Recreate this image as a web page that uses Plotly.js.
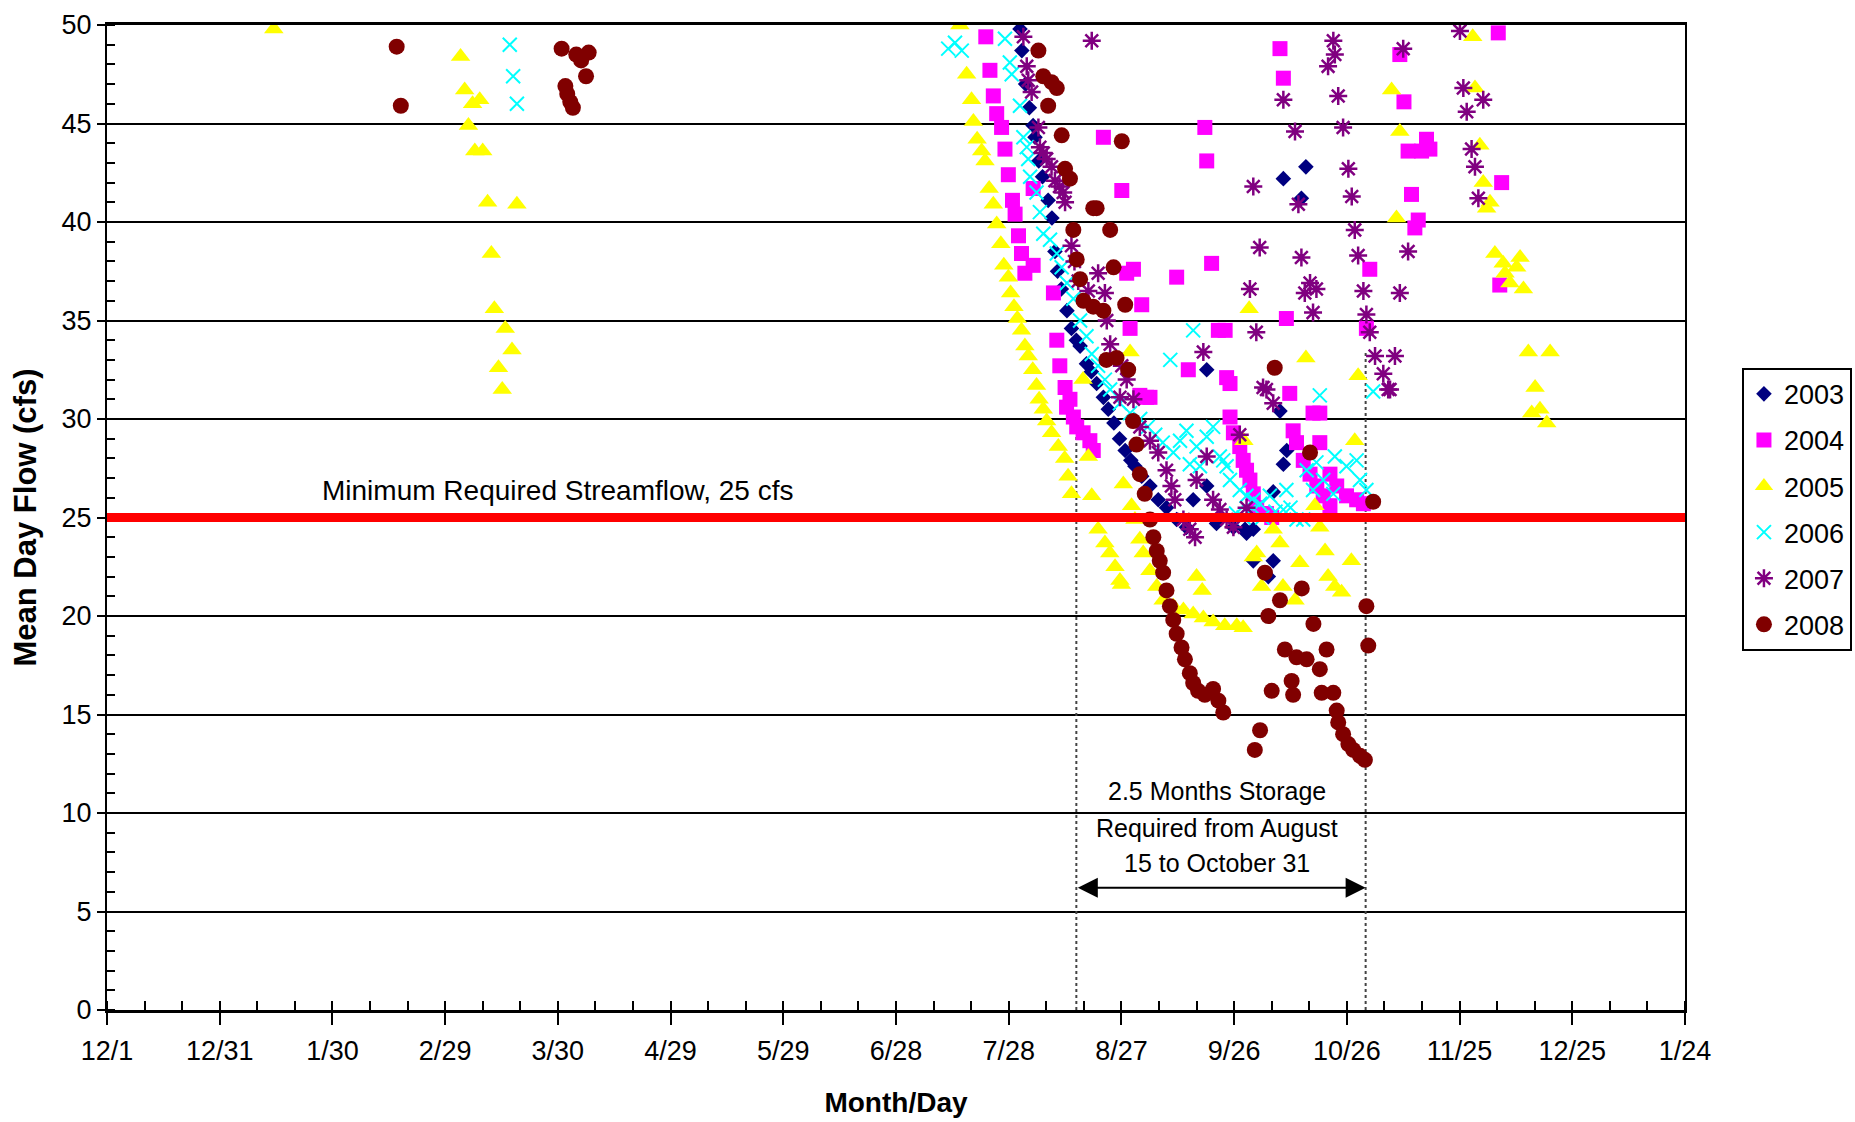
<!DOCTYPE html>
<html>
<head>
<meta charset="utf-8">
<script src="https://cdn.plot.ly/plotly-3.0.1.min.js"></script>
<style>html,body{margin:0;padding:0;background:#fff;}#chart{width:1855px;height:1122px;}</style>
</head>
<body>
<div id="chart"></div>
<script>
// x = days after 12/1 (axis labelled Month/Day), y = mean day flow (cfs)
const xTickDays = [0,30,60,90,120,150,180,210,240,270,300,330,360,390,420];
const xTickLabels = ['12/1','12/31','1/30','2/29','3/30','4/29','5/29','6/28','7/28','8/27','9/26','10/26','11/25','12/25','1/24'];
const years = ['2003','2004','2005','2006','2007','2008'];

const pts2003 = [[243,49.8],[243.5,48.7],[244.5,47.0],[245.5,45.8],[246.5,44.9],[247,44.3],[248,43.1],[249,42.3],[250.5,41.1],[251.5,40.2],[252.3,38.5],[253,37.5],[254,36.6],[255.5,35.5],[256.7,34.6],[258,34.0],[259,33.7],[260.7,32.8],[262,32.4],[263.4,31.8],[265.2,31.1],[266.5,30.5],[268,29.8],[269.5,29.0],[271,28.4],[272.5,27.9],[273.6,27.6],[275.4,27.1],[277.6,26.6],[279.8,25.9],[282,25.5],[284.7,24.9],[287.3,24.5],[289.1,25.9],[292.7,26.6],[295.3,24.7],[299.8,24.5],[303.3,24.2],[305.1,24.4],[302.9,24.4],[305.1,22.8],[310.4,22.8],[309.1,22.0],[310.4,26.3],[313.1,27.7],[314,28.4],[312.2,30.4],[313.1,42.2],[319.1,42.8],[317.9,41.2],[292.7,32.5]];

const pts2004 = [[233.9,49.4],[235,47.7],[235.9,46.4],[236.8,45.5],[238.1,44.8],[239,43.7],[239.9,42.4],[241,41.1],[241.7,40.4],[242.6,39.3],[243.4,38.4],[244.3,37.4],[246.5,37.8],[246.5,41.7],[251.9,36.4],[252.8,34.0],[253.6,32.7],[255,31.6],[255.4,30.6],[256.3,31.0],[257.2,30.1],[258.1,29.6],[259.8,29.3],[261.6,28.9],[262.5,28.4],[265.2,44.3],[270.1,41.6],[271.4,37.4],[273.2,37.6],[275.4,35.8],[272.3,34.6],[276.7,31.1],[274.9,31.2],[277.6,31.1],[284.7,37.2],[292.2,44.8],[292.7,43.1],[294,37.9],[295.8,34.5],[297.6,34.5],[287.8,32.5],[298,32.1],[298.9,30.1],[298.9,31.8],[299.8,29.3],[301.5,28.6],[302.4,27.9],[303.3,27.4],[304.2,26.9],[305.1,26.2],[306,25.5],[306.9,25.2],[308.6,25.2],[310,25.0],[314.8,31.3],[315.7,29.4],[316.6,28.8],[318.4,27.9],[320.2,27.2],[322,26.6],[323.7,26.1],[325.5,25.6],[322.8,30.3],[321,30.3],[322.8,28.8],[325.5,27.2],[327.3,26.6],[329.9,26.1],[332.6,25.9],[334.4,25.7],[312.2,48.8],[313.1,47.3],[313.9,35.1],[336.1,37.6],[335.2,34.6],[344.1,48.5],[345.2,46.1],[346.3,43.6],[349.9,43.6],[351.2,44.2],[352.1,43.7],[347.2,41.4],[349,40.1],[348.1,39.7],[370.3,49.6],[371.2,42.0],[370.7,36.8]];

const pts2005 = [[44.4,49.8],[94.1,48.4],[95.2,46.7],[97.3,46.0],[99.2,46.2],[96.2,44.9],[97.9,43.6],[100,43.6],[101.3,41.0],[102.3,38.4],[103.1,35.6],[106,34.6],[107.8,33.5],[104.2,32.6],[105.2,31.5],[109.1,40.9],[227,50.0],[228.8,47.5],[230.1,46.2],[230.6,45.1],[231.6,44.2],[232.8,43.6],[233.7,43.1],[234.8,41.7],[235.9,40.9],[236.8,39.9],[237.9,38.9],[238.7,37.8],[239.9,37.2],[240.5,36.4],[241.4,35.7],[242.3,35.1],[243.4,34.5],[244.3,33.7],[245.2,33.2],[246.4,32.5],[247.4,31.7],[248.1,31.0],[249.2,30.5],[250.1,29.9],[251.4,29.3],[253.2,28.6],[254.9,28.0],[255.8,27.1],[256.7,26.2],[259.8,32.0],[261.2,28.1],[262.1,26.1],[263.8,24.4],[265.6,23.7],[266.9,23.2],[268.3,22.5],[269.6,21.8],[270,21.6],[272.3,33.4],[270.5,26.7],[272.7,25.6],[273.6,24.9],[274.9,23.9],[275.8,23.2],[277.6,22.3],[279.4,21.5],[281.1,20.8],[283.8,20.5],[286.5,20.3],[289.1,20.1],[291.8,19.9],[294.4,19.7],[297.5,19.5],[300.7,19.5],[302.4,19.4],[290,22.0],[291.5,21.3],[302.6,28.9],[332.1,28.9],[321.5,25.6],[322.8,24.5],[310.4,24.4],[312.2,23.7],[306,23.2],[317.5,22.7],[307.3,21.5],[313,21.5],[316.2,20.8],[324.2,23.3],[325,22.0],[326.8,21.5],[328.6,21.2],[331.2,22.8],[305.1,23.0],[304,35.6],[319.1,33.1],[333,32.2],[341.9,46.7],[344.1,44.6],[343.2,40.2],[363.5,49.4],[364.1,46.8],[365.4,43.9],[366.3,42.0],[368.1,41.0],[367.2,40.7],[369.4,38.4],[371.6,37.9],[376.1,38.2],[372.1,37.4],[373.4,36.9],[377,36.6],[375.2,37.7],[378.3,33.4],[384.1,33.4],[380.1,31.6],[379.2,30.3],[381.4,30.5],[383.2,29.8]];

const pts2006 = [[107.2,49.0],[108.1,47.4],[109.1,46.0],[223.9,48.8],[225.7,49.1],[227.5,48.7],[239,49.3],[240.3,48.1],[240.8,47.5],[243,45.9],[243.9,44.3],[244.8,43.8],[245.2,43.2],[245.7,42.3],[247.4,41.5],[248.3,40.5],[249.2,39.4],[251,39.1],[252.8,38.4],[254.1,37.7],[255.5,36.9],[257.2,36.1],[259,35.0],[260.7,34.2],[262.1,33.3],[263.8,32.7],[265.6,32.0],[267,31.5],[269.6,30.8],[272.3,30.3],[275,30.0],[277,29.6],[279,29.2],[281,28.8],[283.8,28.3],[285.6,28.9],[287.3,29.4],[288.2,27.7],[290,28.6],[290.9,27.6],[292.7,29.1],[294.4,29.6],[296.2,28.1],[297.1,27.9],[298,27.6],[298.9,26.9],[301.5,26.4],[303.3,26.1],[305.1,25.9],[306.9,25.7],[309.5,26.1],[313.1,25.4],[313.9,26.4],[316.6,24.9],[318.4,24.9],[319.3,27.4],[321,26.4],[321.9,27.8],[323.7,26.9],[326.4,26.2],[326.8,28.1],[329.9,27.6],[332.6,27.9],[333.5,26.9],[335.2,26.4],[300.5,25.2],[302.5,25.0],[304,25.3],[307.5,25.0],[311,25.3],[315,25.5],[283,33.0],[289.1,34.5],[322.8,31.2],[337,31.4]];

const pts2007 = [[262.1,49.2],[243.9,49.4],[244.8,47.9],[245.2,47.2],[246.1,46.6],[247.9,44.8],[248.3,43.8],[249.2,43.5],[250.1,43.2],[251.4,42.8],[252.3,42.1],[253.5,41.8],[254.5,41.5],[255,41.0],[256.7,38.8],[257.5,38.0],[258.5,37.0],[261.2,36.5],[263.8,37.4],[265.6,36.4],[266.1,35.0],[267,33.8],[270.1,32.7],[271.4,32.0],[273.2,31.0],[291.8,33.4],[269.6,31.1],[274.9,29.6],[277.6,28.9],[279.8,28.3],[282,27.4],[283.3,26.6],[284.2,25.9],[286.5,24.9],[288.2,24.4],[289.6,24.0],[290,26.9],[292.7,28.1],[294.4,25.9],[296.2,25.4],[298,24.9],[299.8,24.5],[303.3,25.5],[301.5,29.2],[308.6,31.5],[310.4,30.8],[307.7,31.6],[341,31.5],[326.4,49.2],[326.8,48.5],[325,47.9],[313.1,46.2],[327.7,46.4],[316.2,44.6],[329,44.8],[305.1,41.8],[317.1,40.9],[330.4,42.7],[331.3,41.3],[332.1,39.6],[306.8,38.7],[317.9,38.2],[333,38.3],[320.2,36.9],[321.9,36.6],[318.8,36.4],[321,35.4],[304.2,36.6],[334.4,36.5],[335.2,35.3],[344.1,36.4],[346.3,38.5],[305.9,34.4],[336.1,34.4],[337.5,33.2],[342.8,33.2],[339.7,32.3],[341.5,31.5],[360.1,49.7],[345,48.8],[361,46.8],[366.3,46.2],[361.9,45.6],[363.2,43.7],[364.1,42.8],[365,41.2]];

const pts2008 = [[77.1,48.9],[78.2,45.9],[121,48.8],[122,46.9],[122.5,46.5],[123.3,46.1],[124,45.8],[124.9,48.5],[126.2,48.2],[127.5,47.4],[128.2,48.6],[247.9,48.7],[249.2,47.4],[251.4,47.1],[252.8,46.8],[250.5,45.9],[254.1,44.4],[270.1,44.1],[255,42.7],[256.3,42.2],[263.4,40.7],[262.5,40.7],[257.2,39.6],[267,39.6],[258.1,38.1],[267.9,37.7],[259,37.1],[259.9,36.0],[262.5,35.7],[265.2,35.5],[271,35.8],[266,33.0],[268.7,33.1],[271.8,32.5],[273.1,29.9],[274,28.7],[274.9,27.2],[276.2,26.2],[277.6,24.9],[278.5,24.0],[279.4,23.3],[280.2,22.8],[281.1,22.2],[282,21.3],[282.9,20.5],[283.8,19.8],[284.7,19.1],[286,18.4],[286.9,17.8],[288.2,17.1],[289.1,16.6],[290.4,16.2],[292.2,16.0],[294.4,16.3],[295.8,15.7],[297.1,15.1],[306.9,14.2],[305.5,13.2],[308.2,22.2],[312.2,20.8],[309.1,20.0],[318,21.4],[321.1,19.6],[320.2,28.3],[313.5,18.3],[316.6,17.9],[319.3,17.8],[310,16.2],[315.3,16.7],[315.7,16.0],[322.8,17.3],[324.6,18.3],[323.3,16.1],[326.4,16.1],[327.3,15.2],[327.7,14.6],[329,14.0],[330.4,13.5],[331.7,13.2],[333.5,12.9],[334.8,12.7],[337,25.8],[335.2,20.5],[335.7,18.5],[310.8,32.6]];

const minFlow = 25;          // cfs, minimum required streamflow
const storageStart = 258;    // August 15 (days after 12/1)
const storageEnd = 335;      // October 31

const FONT = 'Liberation Sans, Arial, sans-serif';
const series = [pts2003, pts2004, pts2005, pts2006, pts2007, pts2008];
const styles = [
  {symbol:'diamond', size:12, color:'#000080'},
  {symbol:'square', size:15, color:'#FF00FF'},
  {symbol:'triangle-up', size:17, color:'#FFFF00'},
  {symbol:'x-thin-open', size:14, color:'#00FFFF', line:{color:'#00FFFF', width:2}},
  {symbol:'asterisk-open', size:15, color:'#800080', line:{color:'#800080', width:2.5}},
  {symbol:'circle', size:16, color:'#800000'}
];

const traces = series.map((pts, i) => ({
  type:'scatter', mode:'markers', name: years[i], legendgroup: years[i],
  x: pts.map(p => p[0]), y: pts.map(p => p[1]),
  marker: Object.assign({}, styles[i], styles[i].line ? {} : {line:{width:0}}),
  hoverinfo:'x+y+name'
}));

const layout = {
  width:1855, height:1122,
  margin:{l:107, r:170, t:25, b:112, autoexpand:false},
  paper_bgcolor:'#fff', plot_bgcolor:'#fff',
  font:{family:FONT, size:26, color:'#000'},
  showlegend:true,
  legend:{x:1.1058, xanchor:'right', y:0.652, yanchor:'top', bordercolor:'#000', borderwidth:2,
          bgcolor:'#fff', font:{family:FONT, size:27, color:'#000'}, tracegroupgap:8, traceorder:'grouped'},
  xaxis:{
    range:[0,420], tickmode:'array', tickvals:xTickDays, ticktext:xTickLabels,
    ticks:'outside', ticklen:12, tickwidth:2, tickcolor:'#000', ticklabelstandoff:3,
    showline:true, linecolor:'#000', linewidth:3, mirror:true,
    showgrid:false, zeroline:false,
    tickfont:{family:FONT, size:27, color:'#000'},
    minor:{tickmode:'linear', tick0:0, dtick:10, ticks:'inside', ticklen:9, tickwidth:2, tickcolor:'#000', showgrid:false},
    title:{text:'<b>Month/Day</b>', font:{family:FONT, size:28, color:'#000'}, standoff:27}
  },
  yaxis:{
    range:[0,50], tickmode:'linear', tick0:0, dtick:5,
    ticks:'outside', ticklen:8, tickwidth:2, tickcolor:'#000',
    showline:true, linecolor:'#000', linewidth:2, mirror:true,
    showgrid:true, gridcolor:'#000', gridwidth:2, zeroline:false,
    tickfont:{family:FONT, size:27, color:'#000'},
    minor:{tickmode:'linear', tick0:0, dtick:1, ticks:'inside', ticklen:8, tickwidth:2, tickcolor:'#000', showgrid:false},
    title:{text:'<b>Mean Day Flow (cfs)</b>', font:{family:FONT, size:31, color:'#000'}, standoff:16}
  },
  shapes:[
    {type:'line', xref:'x', yref:'y', x0:0, x1:420, y0:minFlow, y1:minFlow, line:{color:'#FF0000', width:9}, layer:'above'},
    {type:'line', xref:'x', yref:'y', x0:storageStart, x1:storageStart, y0:0, y1:30.3, line:{color:'#444', width:2, dash:'dot'}, layer:'between'},
    {type:'line', xref:'x', yref:'y', x0:storageEnd, x1:storageEnd, y0:0, y1:33.5, line:{color:'#444', width:2, dash:'dot'}, layer:'between'}
  ],
  annotations:[
    {x:120, y:26.35, xref:'x', yref:'y', text:'Minimum Required Streamflow, 25 cfs', showarrow:false, font:{family:FONT, size:28, color:'#000'}},
    {x:295.5, y:11.1, xref:'x', yref:'y', text:'2.5 Months Storage', showarrow:false, font:{family:FONT, size:25, color:'#000'}},
    {x:295.5, y:9.24, xref:'x', yref:'y', text:'Required from August', showarrow:false, font:{family:FONT, size:25, color:'#000'}},
    {x:295.5, y:7.46, xref:'x', yref:'y', text:'15 to October 31', showarrow:false, font:{family:FONT, size:25, color:'#000'}},
    {x:storageEnd, y:6.2, ax:storageStart, ay:6.2, xref:'x', yref:'y', axref:'x', ayref:'y', text:'', showarrow:true,
     arrowside:'end+start', arrowhead:2, startarrowhead:2, arrowsize:2, startarrowsize:2, arrowwidth:2, arrowcolor:'#000', standoff:0, startstandoff:0}
  ]
};

Plotly.newPlot('chart', traces, layout, {displayModeBar:false, staticPlot:true});
</script>
</body>
</html>
